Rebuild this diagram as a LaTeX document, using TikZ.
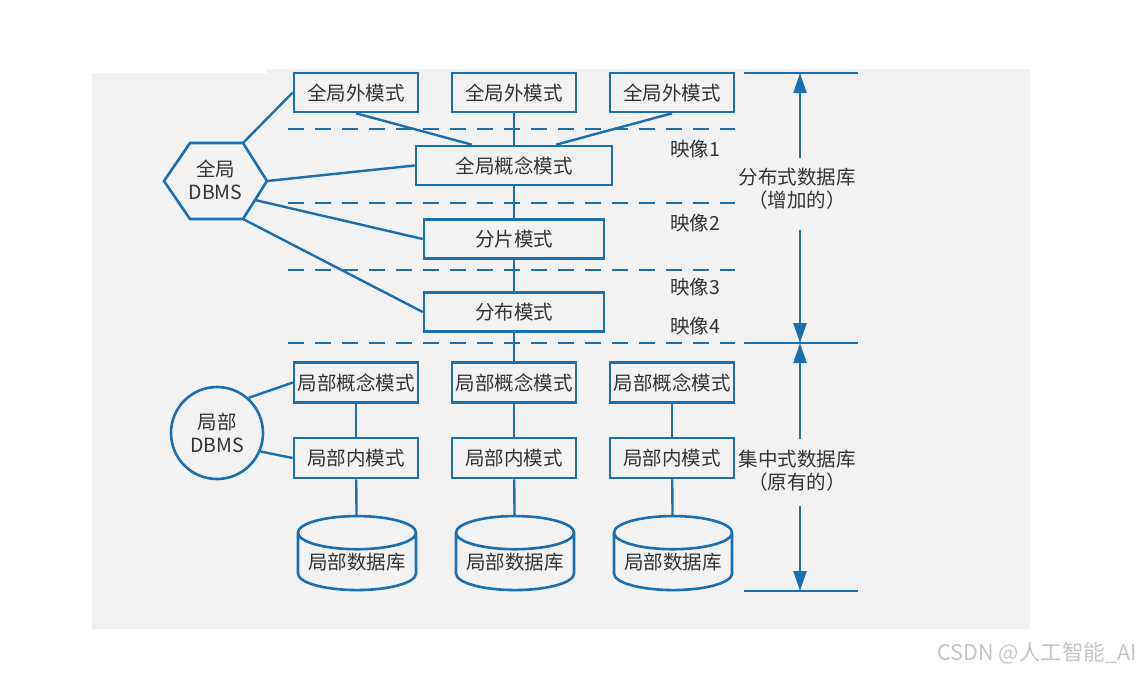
\documentclass[tikz,border=0pt]{standalone}
\usepackage{fontspec}
\setmainfont{Noto Sans CJK SC}
\usepackage{tikz}
\usepackage{xcolor}
\usetikzlibrary{shapes.geometric,arrows.meta}
\definecolor{lineblue}{RGB}{26,110,178}
\definecolor{bggray}{RGB}{242,242,242}
\definecolor{txtgray}{RGB}{51,51,51}

\begin{document}
\begin{tikzpicture}[x=1pt, y=-1pt, node distance={158pt}, line width=2.4pt,
  every node/.style = {font=\fontsize{19.5}{23}\selectfont, text=txtgray},
  main/.style = {draw=lineblue, line width=2.6pt, minimum width=124pt, minimum height=39pt, inner sep=0pt},
  wide/.style = {main, minimum width=180pt},
  base/.style = {draw=lineblue, line width=2.6pt, cylinder, shape border rotate=90, aspect=0.34, minimum width=118pt, minimum height=74pt, inner sep=0pt},
  link/.style = {draw=lineblue},
  sep/.style = {draw=lineblue, dash pattern=on 16pt off 11pt},
  dim/.style = {draw=lineblue, -{Triangle[length=20pt,width=13pt]}}]
\fill[white] (0,0) rectangle (1140,673);
\fill[bggray] (92,73) -- (267,73) -- (267,69) -- (1030,69) -- (1030,629) -- (92,629) -- cycle;
\useasboundingbox (0,0) rectangle (1140,673);

% global part
\node[main] (ext1) at (356,92.5) {全局外模式};
\node[main] (ext2) [right of=ext1] {全局外模式};
\node[main] (ext3) [right of=ext2] {全局外模式};
\node[main, minimum width=196pt] (gc) at (514,165.5) {全局概念模式};
\node[wide] (frag) at (514,239) {分片模式};
\node[wide] (dist) at (514,312) {分布模式};

\node[align=center] (gdbms) at (215.5,180) {全局\\DBMS};
\draw[draw=lineblue, line width=2.6pt] (164,181) -- (190,143) -- (243,143) -- (267,181) -- (243,219) -- (190,219) -- cycle;
\coordinate (h1) at (243,143);
\coordinate (h2) at (267,181);
\coordinate (h3) at (255,200);
\coordinate (h4) at (243,219);

% local part
\node[main, minimum height=40pt] (lc1) at (356,382.5) {局部概念模式};
\node[main, minimum height=40pt] (lc2) [right of=lc1] {局部概念模式};
\node[main, minimum height=40pt] (lc3) [right of=lc2] {局部概念模式};
\node[main, minimum height=40pt] (li1) at (356,458) {局部内模式};
\node[main, minimum height=40pt] (li2) [right of=li1] {局部内模式};
\node[main, minimum height=40pt] (li3) [right of=li2] {局部内模式};
\node[base] (db1) at (357,562) {局部数据库};
\node[base] (db2) [right of=db1] {局部数据库};
\node[base] (db3) [right of=db2] {局部数据库};
\node[draw=lineblue, line width=2.6pt, circle, minimum size=92pt, inner sep=0pt, align=center] (ldbms) at (217,433) {局部\\DBMS};

\draw[link] (h1) -- (ext1.west);
\draw[link] (h2) -- (gc.west);
\draw[link] (h3) -- (frag.west);
\draw[link] (h4) -- (dist.west);
\draw[link] (ext1.south) -- ([xshift=-42pt]gc.north);
\draw[link] (ext2) -- (gc);
\draw[link] (ext3.south) -- ([xshift=42pt]gc.north);
\draw[link] (gc) -- (frag);
\draw[link] (frag) -- (dist);
\draw[link] (dist) -- (lc2);
\foreach \i in {1,2,3} {
  \draw[link] (lc\i) -- (li\i);
  \draw[link] (li\i) -- (db\i);
}
\draw[link] (ldbms.48) -- (lc1.west);
\draw[link] (ldbms.-23) -- (li1.west);

% mapping layers
\foreach \y in {129,203,270,343}
  \draw[sep] (288,\y) -- (735,\y);
\node (m1) at (695,149) {映像1};
\node (m2) at (695,223) {映像2};
\node (m3) at (695,287) {映像3};
\node (m4) at (695,326) {映像4};

% extents
\foreach \y in {73,343,591}
  \draw[link] (744,\y) -- (858,\y);
\coordinate (top) at (800,73);
\coordinate (mid) at (800,343);
\coordinate (bot) at (800,591);
\coordinate (u1) at (800,158);
\coordinate (u2) at (800,230);
\coordinate (l1) at (800,439);
\coordinate (l2) at (800,506);
\node[align=center] (ddb) at (797,188.5) {分布式数据库\\（增加的）};
\node[align=center] (cdb) at (797,471) {集中式数据库\\（原有的）};
\draw[dim] (u1) -- (top);
\draw[dim] (u2) -- (mid);
\draw[dim] (l1) -- (mid);
\draw[dim] (l2) -- (bot);

\node[text=gray!45, font=\fontsize{21.5}{25}\selectfont] (mark) at (1037,653) {CSDN @人工智能\_AI};
\end{tikzpicture}
\end{document}
